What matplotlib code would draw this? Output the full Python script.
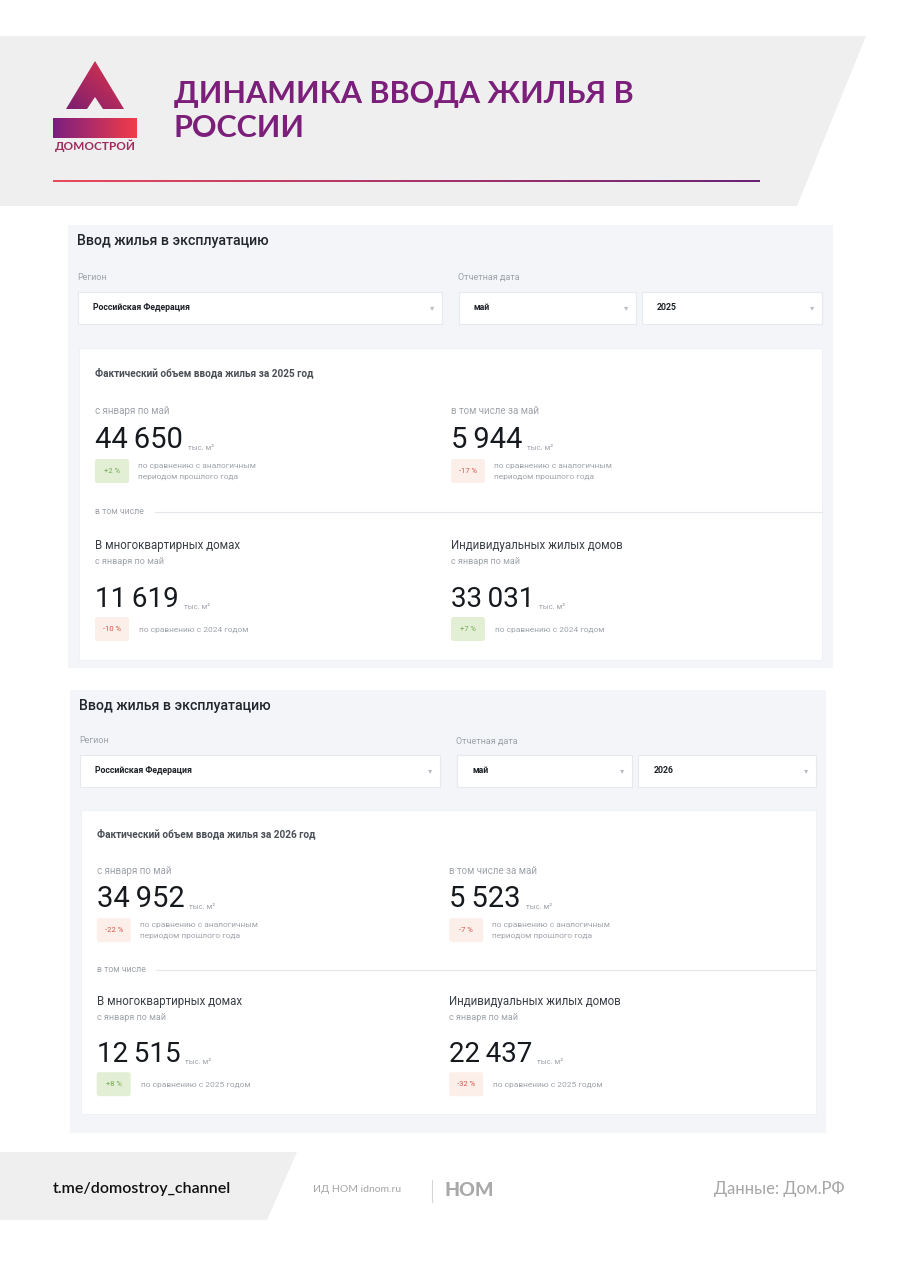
import matplotlib
matplotlib.use("Agg")
import matplotlib.pyplot as plt
import numpy as np
from matplotlib.patches import Rectangle, Polygon, FancyBboxPatch
from matplotlib.colors import LinearSegmentedColormap

# ---------------- DATA ----------------
page_title = ["ДИНАМИКА ВВОДА ЖИЛЬЯ В", "РОССИИ"]
brand = "ДОМОСТРОЙ"
panel_title = "Ввод жилья в эксплуатацию"
region_label = "Регион"
date_label = "Отчетная дата"
region = "Российская Федерация"
report_month = "май"
years = [2025, 2026]
ytd_total = [44650, 34952]
ytd_total_change = [2, -22]
month_total = [5944, 5523]
month_total_change = [-17, -7]
mkd_total = [11619, 12515]
mkd_change = [-10, 8]
izhs_total = [33031, 22437]
izhs_change = [7, -32]
unit = "тыс. м²"
footer_channel = "t.me/domostroy_channel"
footer_publisher = "ИД НОМ idnom.ru"
footer_logo = "НОМ"
footer_source = "Данные: Дом.РФ"

# ---------------- STYLE ----------------
RF = ["Roboto", "DejaVu Sans"]
LF = ["Lato", "DejaVu Sans"]
DARK = "#16191e"
MID = "#3a3f47"
GREY = "#9ea3aa"
PANEL_BG = "#f3f5f9"
POS_BG, POS_FG = "#e2efd5", "#74ad52"
NEG_BG, NEG_FG = "#fcefe9", "#d6574a"

fig = plt.figure(figsize=(9.01, 12.80), dpi=100)
ax = fig.add_axes([0, 0, 1, 1])
ax.set_xlim(0, 901)
ax.set_ylim(1280, 0)
ax.axis("off")


def grad_fill(verts, c0, c1, mode="h", z=3):
    poly = Polygon(verts, closed=True, facecolor="none", edgecolor="none")
    ax.add_patch(poly)
    xs = [v[0] for v in verts]
    ys = [v[1] for v in verts]
    x0, x1, y0, y1 = min(xs), max(xs), min(ys), max(ys)
    n = 256
    Xg, Yg = np.meshgrid(np.linspace(0, 1, n), np.linspace(0, 1, n))
    G = Xg if mode == "h" else 0.5 * Xg + 0.5 * (1 - Yg)
    cmap = LinearSegmentedColormap.from_list("g", [c0, c1])
    im = ax.imshow(G, extent=[x0, x1, y1, y0], cmap=cmap, aspect="auto",
                   zorder=z, interpolation="bilinear", origin="upper")
    im.set_clip_path(poly)


# ---------------- HEADER ----------------
ax.add_patch(Polygon([(0, 36), (866, 36), (797, 206), (0, 206)], closed=True,
                     facecolor="#efefef", edgecolor="none", zorder=1))
# logo triangle with notch
grad_fill([(95, 61), (124, 109), (103, 109), (95, 97), (87, 109), (66, 109)],
          "#7a1f70", "#e3344a", mode="d")
# logo bar
grad_fill([(53, 118), (137, 118), (137, 138), (53, 138)], "#7a1f80", "#f23c48")
ax.text(95, 146, brand, fontsize=8.5, fontweight="bold", color="#a02a5c",
        ha="center", va="center", family=LF, zorder=4)
for k, line in enumerate(page_title):
    ax.text(174, 94 + 34 * k, line, fontsize=22, fontweight="bold",
            color="#7b1f7a", ha="left", va="center", family=LF, zorder=4)
grad_fill([(53, 179.8), (760, 179.8), (760, 182.2), (53, 182.2)], "#ea4a5c", "#6a2276")

# ---------------- PANELS ----------------
def fmt(v):
    return f"{v:,}".replace(",", "\u2009")


def pct(v):
    return f"{v:+d} %"


def badge(x, y, v):
    bg, fg = (POS_BG, POS_FG) if v >= 0 else (NEG_BG, NEG_FG)
    ax.add_patch(FancyBboxPatch((x, y), 34, 24, boxstyle="round,pad=0,rounding_size=2.5",
                                facecolor=bg, edgecolor="none", zorder=4))
    ax.text(x + 17, y + 12, pct(v), fontsize=5.5, color=fg, ha="center",
            va="center", family=RF, zorder=5)


def big_number(x, y, v, fs):
    t = ax.text(x, y, fmt(v), fontsize=fs, color=DARK, ha="left", va="baseline",
                family=RF, zorder=5)
    ax.annotate(unit, xy=(1, 0), xycoords=t, xytext=(3.5, 2.5),
                textcoords="offset points", fontsize=5.5, color=GREY,
                ha="left", va="bottom", family=RF, zorder=5)


def draw_panel(i, x0, y0, sx, sy, w, h):
    X = lambda d: x0 + sx * d
    Y = lambda d: y0 + sy * d
    yr = years[i]
    ax.add_patch(Rectangle((x0, y0), w, h, facecolor=PANEL_BG, edgecolor="none", zorder=1))
    ax.text(X(9), Y(16), panel_title, fontsize=10.2, fontweight="medium", color="#22262c",
            va="center", family=RF, zorder=5)
    ax.text(X(9), Y(52), region_label, fontsize=6.5, color=GREY, va="center", family=RF, zorder=5)
    ax.text(X(390), Y(52), date_label, fontsize=6.5, color=GREY, va="center", family=RF, zorder=5)
    boxes = [(10, 374, region), (391, 568, report_month), (574, 754, str(yr))]
    for a, b, lab in boxes:
        ax.add_patch(Rectangle((X(a), Y(67)), sx * (b - a), sy * 32, facecolor="white",
                               edgecolor="#e6e9ee", linewidth=0.8, zorder=2))
        ax.text(X(a) + 15, Y(83), lab, fontsize=6.3, fontweight="bold", color="#1e2228",
                va="center", family=RF, zorder=5)
        ax.text(X(b) - 10, Y(83), "▾", fontsize=6, color="#b9bdc3", ha="center",
                va="center", family=RF, zorder=5)
    # card
    ax.add_patch(Rectangle((X(11), Y(123)), sx * 743, sy * 312, facecolor="white",
                           edgecolor="#edf0f4", linewidth=0.6, zorder=2))
    L, R = X(27), X(383)
    ax.text(L, Y(148), f"Фактический объем ввода жилья за {yr} год", fontsize=7.2,
            fontweight="bold", color="#4a4f57", va="center", family=RF, zorder=5)
    ax.text(L, Y(186), f"с января по {report_month}", fontsize=7, color=GREY,
            va="center", family=RF, zorder=5)
    ax.text(R, Y(186), f"в том числе за {report_month}", fontsize=7, color=GREY,
            va="center", family=RF, zorder=5)
    big_number(L, Y(223), ytd_total[i], 21)
    big_number(R, Y(223), month_total[i], 21)
    for cx, v in ((L, ytd_total_change[i]), (R, month_total_change[i])):
        badge(cx, Y(234), v)
        ax.text(cx + 43, Y(241), "по сравнению с аналогичным", fontsize=6, color=GREY,
                va="center", family=RF, zorder=5)
        ax.text(cx + 43, Y(252), "периодом прошлого года", fontsize=6, color=GREY,
                va="center", family=RF, zorder=5)
    ax.text(L, Y(287), "в том числе", fontsize=6.3, color=GREY, va="center",
            family=RF, zorder=5)
    ax.plot([X(87), X(754)], [Y(287), Y(287)], color="#e3e6ea", lw=0.8, zorder=3)
    ax.text(L, Y(320), "В многоквартирных домах", fontsize=8.3, color=MID,
            va="center", family=RF, zorder=5)
    ax.text(R, Y(320), "Индивидуальных жилых домов", fontsize=8.3, color=MID,
            va="center", family=RF, zorder=5)
    for cx in (L, R):
        ax.text(cx, Y(336), f"с января по {report_month}", fontsize=6.5, color=GREY,
                va="center", family=RF, zorder=5)
    big_number(L, Y(382), mkd_total[i], 20)
    big_number(R, Y(382), izhs_total[i], 20)
    for cx, v in ((L, mkd_change[i]), (R, izhs_change[i])):
        badge(cx, Y(392), v)
        ax.text(cx + 44, Y(405), f"по сравнению с {yr - 1} годом", fontsize=6,
                color=GREY, va="center", family=RF, zorder=5)


draw_panel(0, 68, 225, 1.0, 1.0, 765, 443)
draw_panel(1, 70, 690, 0.99, 0.975, 756, 443)

# ---------------- FOOTER ----------------
ax.add_patch(Polygon([(0, 1152), (297, 1152), (267, 1220), (0, 1220)], closed=True,
                     facecolor="#efefef", edgecolor="none", zorder=1))
ax.text(53, 1189, footer_channel, fontsize=11.5, fontweight="semibold", color="#111111",
        va="center", family=LF, zorder=5)
ax.text(313, 1190, footer_publisher, fontsize=7.5, color="#a5a5a5", va="center",
        family=LF, zorder=5)
ax.plot([432, 432], [1180, 1202], color="#d5d5d5", lw=0.8, zorder=3)
ax.text(444, 1190, footer_logo, fontsize=14, fontweight="black", color="#a9a9a9",
        va="center", family=LF, zorder=5)
ax.text(845, 1189, footer_source, fontsize=12, fontweight="normal", color="#a6a6a6",
        ha="right", va="center", family=LF, zorder=5)

ax.set_xlim(0, 901)
ax.set_ylim(1280, 0)
fig.savefig("out.png", dpi=100, facecolor="white")
